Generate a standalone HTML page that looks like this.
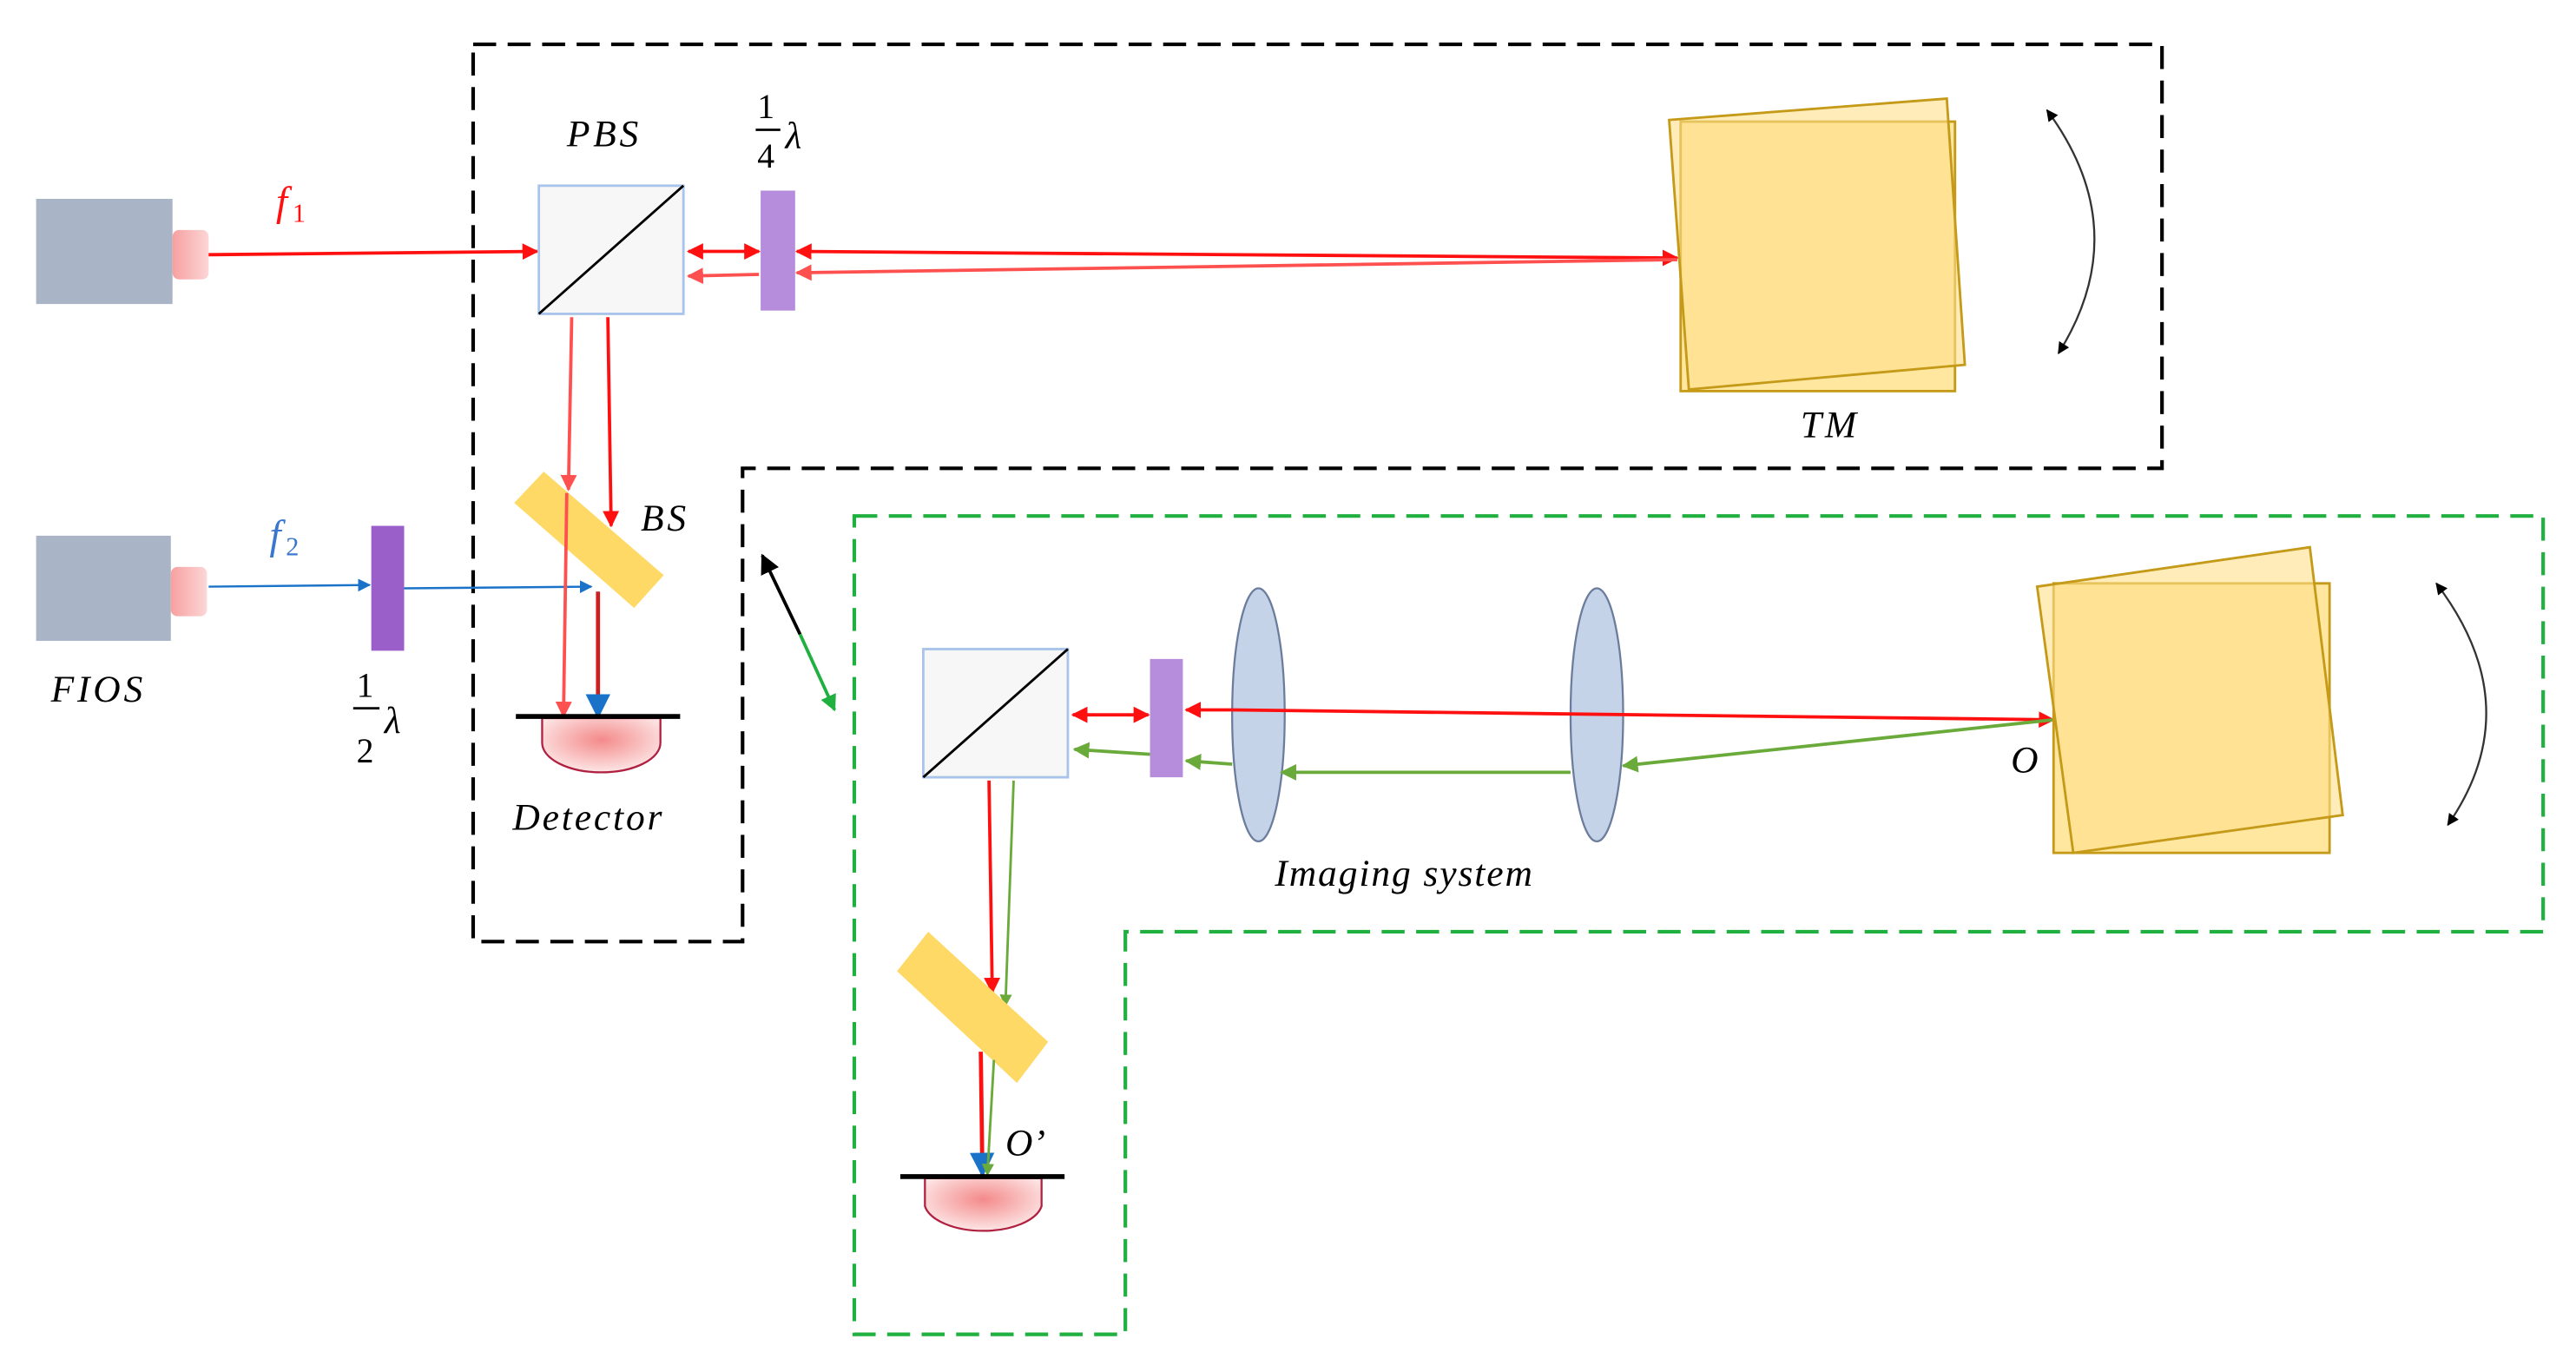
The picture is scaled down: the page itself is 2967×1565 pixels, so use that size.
<!DOCTYPE html>
<html><head><meta charset="utf-8"><style>
html,body{margin:0;padding:0;background:#fff;}
svg{display:block;}
text{font-family:"Liberation Serif",serif;font-style:italic;}
text.n{font-style:normal;}
</style></head><body>
<svg width="2967" height="1565" viewBox="0 0 1568 827" preserveAspectRatio="none" xmlns="http://www.w3.org/2000/svg">
<defs>
<marker id="ar" viewBox="0 0 10 10" refX="9" refY="5" markerWidth="5" markerHeight="5" orient="auto-start-reverse"><path d="M0,0L10,5L0,10z" fill="#ff1010"/></marker>
<marker id="arl" viewBox="0 0 10 10" refX="9" refY="5" markerWidth="5" markerHeight="5" orient="auto-start-reverse"><path d="M0,0L10,5L0,10z" fill="#ff5050"/></marker>
<marker id="ab" viewBox="0 0 10 10" refX="9" refY="5" markerWidth="6" markerHeight="6" orient="auto-start-reverse"><path d="M0,0L10,5L0,10z" fill="#1a73c8"/></marker>
<marker id="ag" viewBox="0 0 10 10" refX="9" refY="5" markerWidth="5" markerHeight="5" orient="auto-start-reverse"><path d="M0,0L10,5L0,10z" fill="#6aaa3a"/></marker>
<marker id="ak" viewBox="0 0 10 10" refX="9" refY="5" markerWidth="6" markerHeight="6" orient="auto-start-reverse"><path d="M0,0L10,5L0,10z" fill="#000"/></marker>
<marker id="agg" viewBox="0 0 10 10" refX="9" refY="5" markerWidth="5" markerHeight="5" orient="auto-start-reverse"><path d="M0,0L10,5L0,10z" fill="#20b040"/></marker>
<radialGradient id="det" cx="0.5" cy="0.4" r="0.6"><stop offset="0" stop-color="#f48a8a"/><stop offset="1" stop-color="#fde6e6"/></radialGradient>
<linearGradient id="noz" x1="0" x2="1"><stop offset="0" stop-color="#f7a0a0"/><stop offset="1" stop-color="#fcd6d6"/></linearGradient>
</defs>

<path d="M288,27H1316V285H452V573H288Z" fill="none" stroke="#000" stroke-width="2.2" stroke-dasharray="14,7"/>
<path d="M520,314H1548V567H685V812H520Z" fill="none" stroke="#20b040" stroke-width="2.2" stroke-dasharray="14,7"/>

<rect x="22" y="121" width="83" height="64" fill="#a9b4c6"/>
<rect x="105" y="140" width="22" height="30" rx="4" fill="url(#noz)"/>
<rect x="22" y="326" width="82" height="64" fill="#a9b4c6"/>
<rect x="104" y="345" width="22" height="30" rx="4" fill="url(#noz)"/>
<text x="168" y="131" font-size="25" fill="#ff1010">f</text><text class="n" x="178" y="135" font-size="16" fill="#ff1010">1</text>
<text x="164" y="334" font-size="25" fill="#3a78d0">f</text><text class="n" x="174" y="338" font-size="16" fill="#3a78d0">2</text>
<text x="31" y="427" font-size="23" letter-spacing="2">FIOS</text>

<line x1="127" y1="155" x2="327" y2="153" stroke="#ff1010" stroke-width="2" marker-end="url(#ar)"/>

<rect x="328" y="113" width="88" height="78" fill="#f7f7f7" stroke="#a9c4ea" stroke-width="1.5"/>
<line x1="328" y1="191" x2="416" y2="113" stroke="#000" stroke-width="1.5"/>
<text x="345" y="89" font-size="23" letter-spacing="2">PBS</text>

<rect x="463" y="116" width="21" height="73" fill="#b58ddc"/>
<text class="n" x="461" y="72" font-size="21">1</text>
<line x1="460" y1="79" x2="475" y2="79" stroke="#000" stroke-width="1.5"/>
<text class="n" x="461" y="102" font-size="21">4</text>
<text x="478" y="90" font-size="23">λ</text>

<line x1="419" y1="153" x2="462" y2="153" stroke="#ff1010" stroke-width="2" marker-start="url(#ar)" marker-end="url(#ar)"/>
<line x1="462" y1="167" x2="419" y2="168" stroke="#ff5050" stroke-width="2" marker-end="url(#arl)"/>
<line x1="485" y1="153" x2="1021" y2="157" stroke="#ff1010" stroke-width="2" marker-start="url(#ar)" marker-end="url(#ar)"/>
<line x1="1021" y1="158" x2="485" y2="166" stroke="#ff5050" stroke-width="2" marker-end="url(#arl)"/>

<rect x="1023" y="74" width="167" height="164" fill="#ffdf80" fill-opacity="0.75" stroke="#c49a18" stroke-width="1.5"/>
<polygon points="1016,73 1185,60 1196,222 1028,237" fill="#ffe08a" fill-opacity="0.6" stroke="#c49a18" stroke-width="1.5"/>
<text x="1096" y="266" font-size="23" letter-spacing="2">TM</text>
<path d="M1246,67 Q1300,140 1253,215" fill="none" stroke="#333" stroke-width="1.2" marker-start="url(#ak)" marker-end="url(#ak)"/>

<line x1="348" y1="193" x2="346" y2="298" stroke="#ff5050" stroke-width="2" marker-end="url(#arl)"/>
<line x1="370" y1="193" x2="372" y2="320" stroke="#ff1010" stroke-width="2" marker-end="url(#ar)"/>

<rect x="226" y="320" width="20" height="76" fill="#9b5fc9"/>
<text class="n" x="217" y="424" font-size="21">1</text>
<line x1="215" y1="431" x2="231" y2="431" stroke="#000" stroke-width="1.5"/>
<text class="n" x="217" y="464" font-size="21">2</text>
<text x="234" y="446" font-size="23">λ</text>

<polygon points="313,306 331,287 404,350 386,370" fill="#ffd966"/>
<text x="390" y="323" font-size="23" letter-spacing="2">BS</text>

<line x1="127" y1="357" x2="225" y2="356" stroke="#1a73c8" stroke-width="1.3" marker-end="url(#ab)"/>
<line x1="246" y1="358" x2="360" y2="357" stroke="#1a73c8" stroke-width="1.3" marker-end="url(#ab)"/>

<line x1="345" y1="300" x2="343" y2="436" stroke="#ff5050" stroke-width="2" marker-end="url(#arl)"/>
<line x1="364" y1="360" x2="364" y2="436" stroke="#cc2020" stroke-width="2.5" marker-end="url(#ab)"/>

<path d="M330,437V452A36,18 0 0 0 402,452V437Z" fill="url(#det)" stroke="#b02040" stroke-width="1.2"/>
<line x1="314" y1="436" x2="414" y2="436" stroke="#000" stroke-width="3"/>
<text x="312" y="505" font-size="23" letter-spacing="1.5">Detector</text>

<line x1="487" y1="386" x2="464" y2="338" stroke="#000" stroke-width="2" marker-end="url(#ak)"/>
<line x1="487" y1="386" x2="508" y2="432" stroke="#20b040" stroke-width="2" marker-end="url(#agg)"/>

<rect x="562" y="395" width="88" height="78" fill="#f7f7f7" stroke="#a9c4ea" stroke-width="1.5"/>
<line x1="562" y1="473" x2="650" y2="395" stroke="#000" stroke-width="1.5"/>
<rect x="700" y="401" width="20" height="72" fill="#b58ddc"/>

<ellipse cx="766" cy="435" rx="16" ry="77" fill="#c5d3e8" stroke="#6c7c9c" stroke-width="1.2"/>
<ellipse cx="972" cy="435" rx="16" ry="77" fill="#c5d3e8" stroke="#6c7c9c" stroke-width="1.2"/>
<text x="776" y="539" font-size="23" letter-spacing="1">Imaging system</text>

<line x1="653" y1="435" x2="699" y2="435" stroke="#ff1010" stroke-width="2" marker-start="url(#ar)" marker-end="url(#ar)"/>
<line x1="750" y1="432" x2="722" y2="432" stroke="#ff1010" stroke-width="2" marker-end="url(#ar)"/>
<line x1="750" y1="432" x2="1250" y2="438" stroke="#ff1010" stroke-width="2" marker-end="url(#ar)"/>
<line x1="1250" y1="438" x2="988" y2="466" stroke="#6aaa3a" stroke-width="2" marker-end="url(#ag)"/>
<line x1="956" y1="470" x2="780" y2="470" stroke="#6aaa3a" stroke-width="2" marker-end="url(#ag)"/>
<line x1="750" y1="465" x2="722" y2="463" stroke="#6aaa3a" stroke-width="2" marker-end="url(#ag)"/>
<line x1="700" y1="459" x2="654" y2="456" stroke="#6aaa3a" stroke-width="2" marker-end="url(#ag)"/>

<rect x="1250" y="355" width="168" height="164" fill="#ffdf80" fill-opacity="0.75" stroke="#c49a18" stroke-width="1.5"/>
<polygon points="1240,357 1406,333 1426,496 1262,519" fill="#ffe08a" fill-opacity="0.6" stroke="#c49a18" stroke-width="1.5"/>
<text x="1224" y="470" font-size="23">O</text>
<path d="M1483,355 Q1540,430 1490,502" fill="none" stroke="#333" stroke-width="1.2" marker-start="url(#ak)" marker-end="url(#ak)"/>

<line x1="602" y1="475" x2="604" y2="604" stroke="#ff1010" stroke-width="2" marker-end="url(#ar)"/>
<line x1="617" y1="475" x2="612" y2="612" stroke="#6aaa3a" stroke-width="1.5" marker-end="url(#ag)"/>
<polygon points="546,591 565,567 638,634 619,659" fill="#ffd966"/>
<line x1="597" y1="640" x2="598" y2="715" stroke="#ff1010" stroke-width="2.5" marker-end="url(#ab)"/>
<line x1="605" y1="645" x2="601" y2="715" stroke="#6aaa3a" stroke-width="1.5" marker-end="url(#ag)"/>

<path d="M563,717V734A36,18 0 0 0 634,734V717Z" fill="url(#det)" stroke="#b02040" stroke-width="1.2"/>
<line x1="548" y1="716" x2="648" y2="716" stroke="#000" stroke-width="3"/>
<text x="612" y="703" font-size="23">O’</text>
</svg>
</body></html>
